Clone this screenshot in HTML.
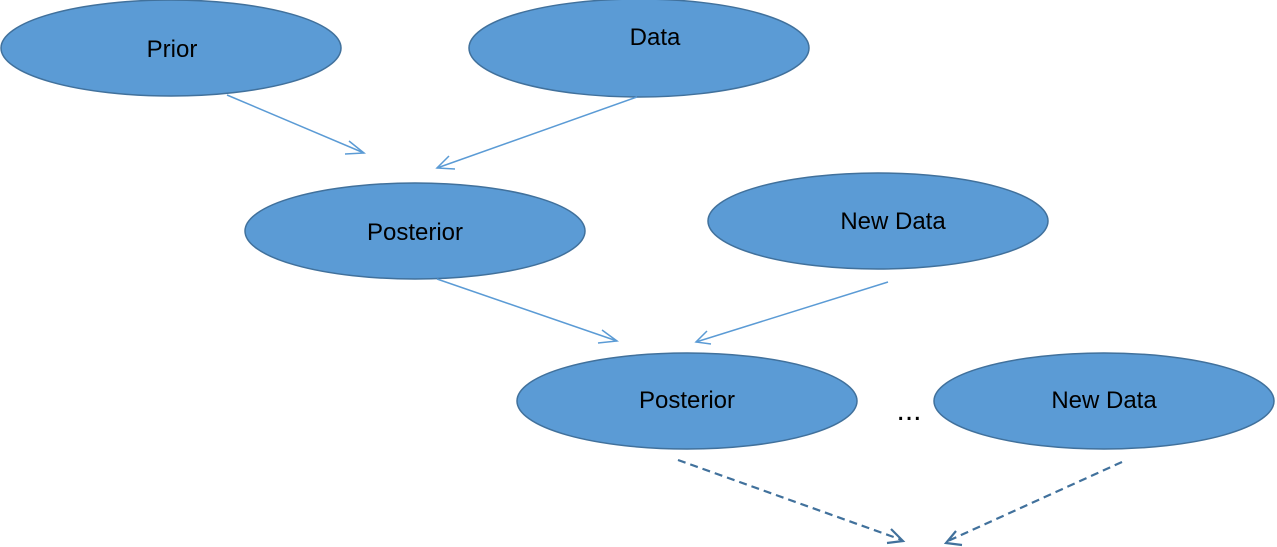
<!DOCTYPE html>
<html><head><style>body{margin:0;background:#fff}svg{display:block}</style></head><body>
<svg width="1277" height="547" xmlns="http://www.w3.org/2000/svg" font-family="Liberation Sans, sans-serif" font-size="24">
<g fill="#5b9bd5" stroke="#41719c" stroke-width="1.5">
<ellipse cx="171" cy="48" rx="170" ry="48"/>
<ellipse cx="639" cy="48" rx="170" ry="49"/>
<ellipse cx="415" cy="231" rx="170" ry="48"/>
<ellipse cx="878" cy="221" rx="170" ry="48"/>
<ellipse cx="687" cy="401" rx="170" ry="48"/>
<ellipse cx="1104" cy="401" rx="170" ry="48"/>
</g>
<g fill="#000" text-anchor="middle">
<text x="172" y="57">Prior</text>
<text x="655" y="45">Data</text>
<text x="415" y="240">Posterior</text>
<text x="893" y="229">New Data</text>
<text x="687" y="408">Posterior</text>
<text x="1104" y="408">New Data</text>
<text x="909" y="420" font-size="30">...</text>
</g>
<g stroke="#5b9bd5" stroke-width="1.5" fill="none">
<line x1="227" y1="95" x2="364" y2="153"/><polyline points="349,141 364,153 345,154"/>
<line x1="637" y1="97" x2="437" y2="168"/><polyline points="449,156 437,168 455,169"/>
<line x1="437" y1="279" x2="617" y2="341"/><polyline points="602,330 617,341 598,343"/>
<line x1="888" y1="282" x2="696" y2="342"/><polyline points="707,331 696,342 711,344"/>
</g>
<g stroke="#41719c" stroke-width="2.2" fill="none">
<line x1="678" y1="460" x2="902" y2="540" stroke-dasharray="8,5"/><polyline points="891,529 903,541 887,543"/>
<line x1="1122" y1="462" x2="948" y2="541" stroke-dasharray="8,5"/><polyline points="956,531 946,543 962,545"/>
</g>
</svg>
</body></html>
